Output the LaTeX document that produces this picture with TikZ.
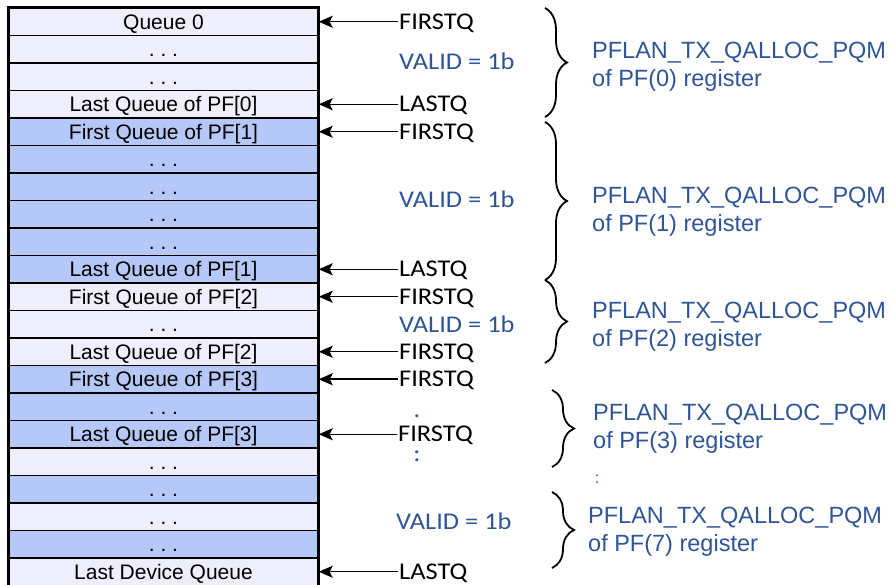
\documentclass[tikz,border=0pt]{standalone}
\usepackage{fontspec}
\setmainfont{Liberation Sans}
\newfontfamily\calfont[FakeStretch=1.1]{Carlito}
\usetikzlibrary{arrows.meta,decorations.pathreplacing}
\definecolor{LightClr}{RGB}{238,238,252}
\definecolor{DarkClr}{RGB}{182,200,247}
\definecolor{RegClr}{RGB}{47,85,151}
\tikzset{
  qrow/.style={draw,line width=1.4pt,minimum width=309pt,minimum height=27.5pt,inner sep=0pt,
    text height=15pt,text depth=0pt,font=\fontsize{21}{24}\selectfont\frenchspacing},
  lrow/.style={qrow,fill=LightClr},
  drow/.style={qrow,fill=DarkClr},
  ptrlbl/.style={anchor=west,inner sep=1pt,text height=15pt,text depth=0pt,
    font=\calfont\fontsize{24}{28}\selectfont},
  validlbl/.style={ptrlbl,text=RegClr},
  dotlbl/.style={inner sep=0pt,text=RegClr,font=\calfont\fontsize{24}{28}\selectfont},
  reglbl/.style={anchor=west,align=left,inner sep=0pt,text=RegClr,font=\fontsize{23.5}{28}\selectfont},
  ptr/.style={line width=1.3pt,-{Stealth[length=14pt,width=12pt,inset=3pt]}},
  brc/.style={decorate,decoration={brace,amplitude=22pt},line width=1.8pt}
}
\begin{document}
\begin{tikzpicture}[x=1pt,y=-1pt]
\useasboundingbox (0,0) rectangle (894,585);

\node[lrow] (r0) at (163.5,21.75) {Queue 0};
\node[lrow] (r1) at (163.5,49.25) {. . .};
\node[lrow] (r2) at (163.5,76.75) {. . .};
\node[lrow] (r3) at (163.5,104.25) {Last Queue of PF[0]};
\node[drow] (r4) at (163.5,131.75) {First Queue of PF[1]};
\node[drow] (r5) at (163.5,159.25) {. . .};
\node[drow] (r6) at (163.5,186.75) {. . .};
\node[drow] (r7) at (163.5,214.25) {. . .};
\node[drow] (r8) at (163.5,241.75) {. . .};
\node[drow] (r9) at (163.5,269.25) {Last Queue of PF[1]};
\node[lrow] (r10) at (163.5,296.75) {First Queue of PF[2]};
\node[lrow] (r11) at (163.5,324.25) {. . .};
\node[lrow] (r12) at (163.5,351.75) {Last Queue of PF[2]};
\node[drow] (r13) at (163.5,379.25) {First Queue of PF[3]};
\node[drow] (r14) at (163.5,406.75) {. . .};
\node[drow] (r15) at (163.5,434.25) {Last Queue of PF[3]};
\node[lrow] (r16) at (163.5,461.75) {. . .};
\node[drow] (r17) at (163.5,489.25) {. . .};
\node[lrow] (r18) at (163.5,516.75) {. . .};
\node[drow] (r19) at (163.5,544.25) {. . .};
\node[lrow] (r20) at (163.5,571.75) {Last Device Queue};
\draw[line width=2pt] (r0.north west) rectangle (r20.south east);

\node[ptrlbl] (fq0) at (398,21.75) {FIRSTQ};
\node[ptrlbl] (lq0) at (398,104.25) {LASTQ};
\node[ptrlbl] (fq1) at (398,131.75) {FIRSTQ};
\node[ptrlbl] (lq1) at (398,269.25) {LASTQ};
\node[ptrlbl] (fq2) at (398,296.75) {FIRSTQ};
\node[ptrlbl] (lq2) at (398,351.75) {FIRSTQ};
\node[ptrlbl] (fq3) at (398,379.25) {FIRSTQ};
\node[ptrlbl] (lq3) at (397,434.25) {FIRSTQ};
\node[ptrlbl] (lqd) at (398,571.75) {LASTQ};

\draw[ptr] (fq0.west) -- (r0.east);
\draw[ptr] (lq0.west) -- (r3.east);
\draw[ptr] (fq1.west) -- (r4.east);
\draw[ptr] (lq1.west) -- (r9.east);
\draw[ptr] (fq2.west) -- (r10.east);
\draw[ptr] (lq2.west) -- (r12.east);
\draw[ptr,line width=2.2pt] (fq3.west) -- (r13.east);
\draw[ptr] (lq3.west) -- (r15.east);
\draw[ptr] (lqd.west) -- (r20.east);

\node[validlbl] (v0) at (398,62) {VALID = 1b};
\node[validlbl] (v1) at (398,200) {VALID = 1b};
\node[validlbl] (v2) at (398,325) {VALID = 1b};
\node[validlbl] (v7) at (395,521.5) {VALID = 1b};
\node[dotlbl] (vd1) at (417,416) {.};
\node[dotlbl] (vd2) at (417,456) {:};

\draw[brc] (545,8) -- (545,117);
\draw[brc] (545,122) -- (545,280);
\draw[brc] (545,280) -- (545,363);
\draw[brc] (552,390) -- (552,467);
\draw[brc] (552,492) -- (552,568);

\node[reglbl] (reg0) at (592,67) {PFLAN\_TX\_QALLOC\_PQM\\of PF(0) register};
\node[reglbl] (reg1) at (592,212) {PFLAN\_TX\_QALLOC\_PQM\\of PF(1) register};
\node[reglbl] (reg2) at (592,327) {PFLAN\_TX\_QALLOC\_PQM\\of PF(2) register};
\node[reglbl] (reg3) at (593,429) {PFLAN\_TX\_QALLOC\_PQM\\of PF(3) register};
\node[inner sep=0pt,text=RegClr,font=\fontsize{16}{18}\selectfont] (regdots) at (597,479) {:};
\node[reglbl] (reg7) at (588,532) {PFLAN\_TX\_QALLOC\_PQM\\of PF(7) register};

\end{tikzpicture}
\end{document}
